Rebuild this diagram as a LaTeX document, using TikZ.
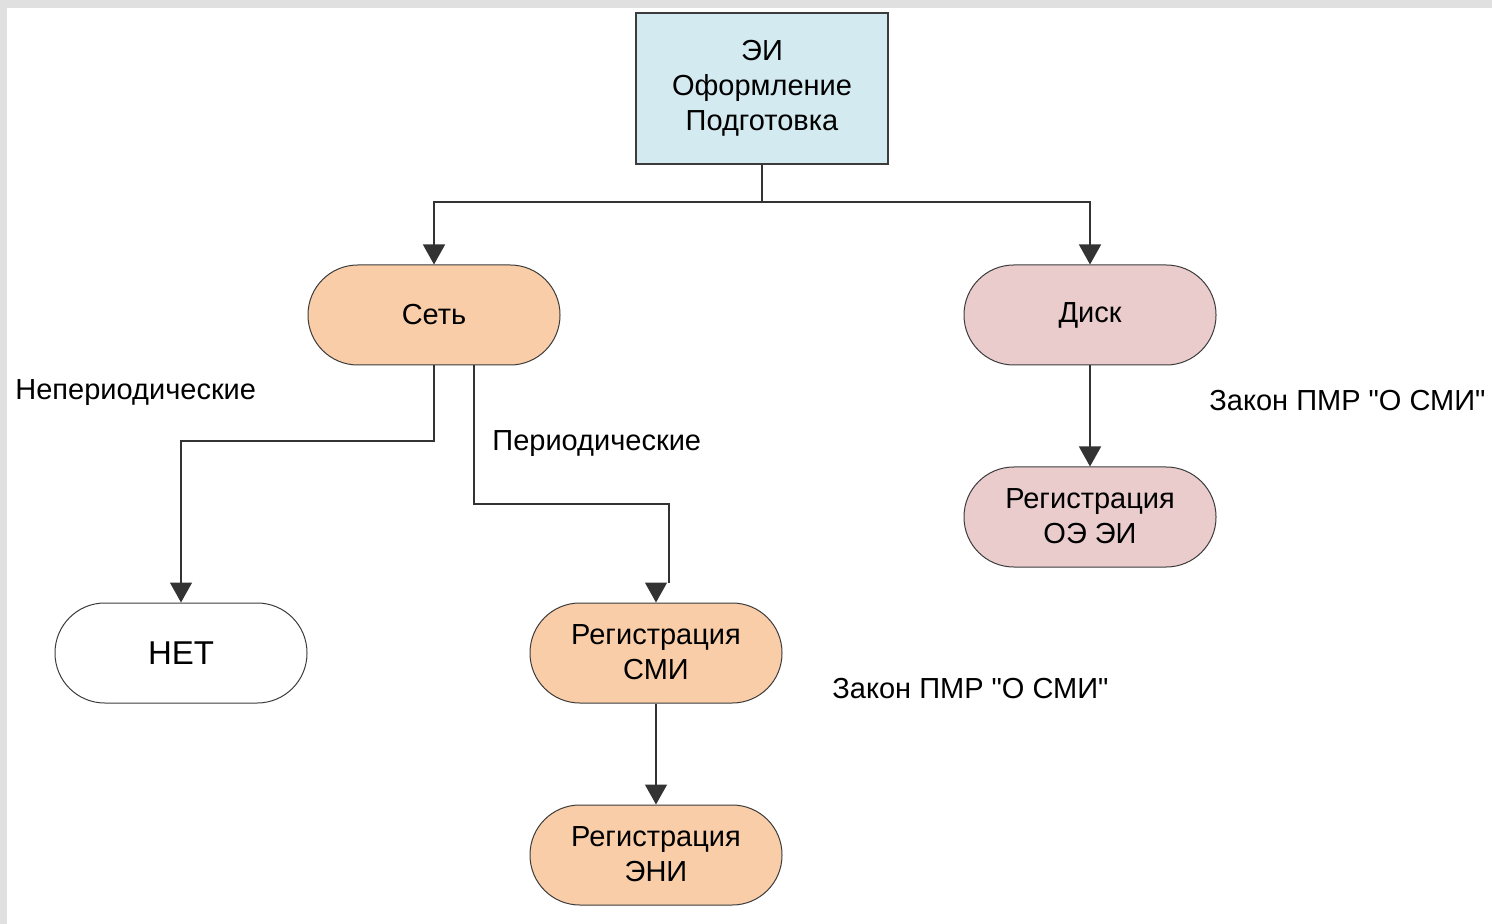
\documentclass[tikz,border=0pt]{standalone}
\usepackage{fontspec}
\setmainfont{Liberation Sans}
\usetikzlibrary{arrows.meta}
\definecolor{topfill}{RGB}{211,234,240}
\definecolor{peach}{RGB}{249,205,168}
\definecolor{pink}{RGB}{234,204,204}
\definecolor{frame}{RGB}{224,224,224}
\definecolor{edge}{RGB}{60,60,60}
\begin{document}
\begin{tikzpicture}[x=0.5pt,y=-0.5pt,
  every node/.style={font=\fontsize{14.5pt}{17.5pt}\selectfont, text=black},
  pill/.style={draw=edge, line width=0.5pt, rounded corners=24.9pt, minimum width=126pt, minimum height=50pt, inner sep=0pt, align=center},
  conn/.style={draw=black!80, line width=0.7pt},
  arr/.style={conn, -{Triangle[length=10pt,width=11pt]}},
  lbl/.style={anchor=west, inner sep=0pt}
]
\fill[frame] (0,0) rectangle (1492,924);
\fill[white] (7,8) rectangle (1492,924);
\useasboundingbox (0,0) rectangle (1492,924);

\node[draw=edge, line width=0.6pt, fill=topfill, minimum width=126pt, minimum height=75.5pt, inner sep=0pt, align=center] (top) at (762,88.5) {ЭИ\\Оформление\\Подготовка};

\node[pill, fill=peach] (set) at (434,315) {Сеть};
\node[pill, fill=pink] (disk) at (1090,315) {Диск};
\node[pill, fill=pink] (oe) at (1090,517) {\raisebox{0.75pt}{\shortstack{Регистрация\\[1.1pt]ОЭ ЭИ}}};
\node[pill, fill=white] (net) at (181,653) {\fontsize{16.5pt}{19pt}\selectfont НЕТ};
\node[pill, fill=peach] (smi) at (656,653) {\raisebox{0.75pt}{\shortstack{Регистрация\\[1.1pt]СМИ}}};
\node[pill, fill=peach] (eni) at (656,855) {\raisebox{0.75pt}{\shortstack{Регистрация\\[1.1pt]ЭНИ}}};

\node[lbl] (l1) at (15,393) {Непериодические};
\node[lbl] (l2) at (492,444) {Периодические};
\node[lbl] (l3) at (1209,401) {Закон ПМР \textquotedbl О СМИ\textquotedbl};
\node[lbl] (l4) at (832,689) {Закон ПМР \textquotedbl О СМИ\textquotedbl};

\coordinate (split) at (762,202);
\draw[conn] (top.south) -- (split);
\draw[arr] (split) -| (set.north);
\draw[arr] (split) -| (disk.north);
\draw[arr] (set.south) |- (181,441) -- (net.north);
\coordinate (jog) at (669,583);
\coordinate (jogtip) at (656,583);
\draw[conn] ([xshift=20pt]set.south) |- (669,504) -- (jog);
\draw[arr] (jogtip) -- (smi.north);
\draw[arr] (disk.south) -- (oe.north);
\draw[arr] (smi.south) -- (eni.north);
\end{tikzpicture}
\end{document}
